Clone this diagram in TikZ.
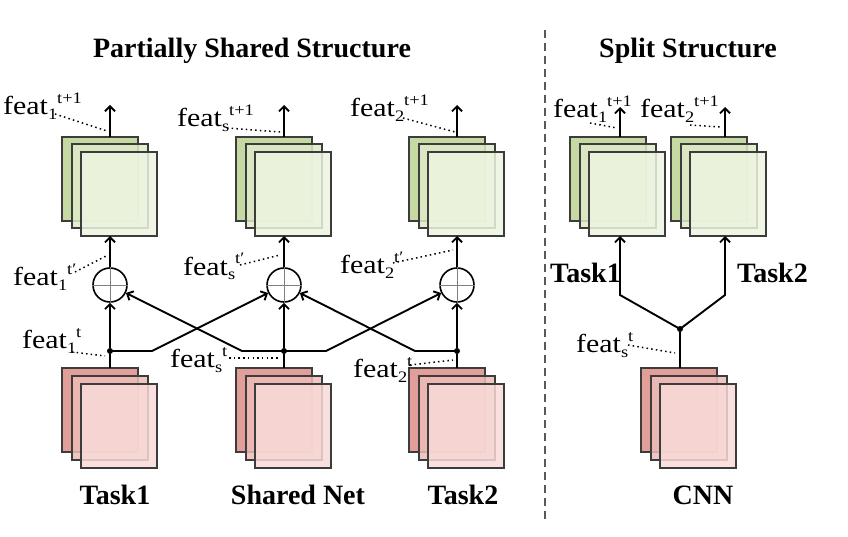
\documentclass[tikz,border=0pt]{standalone}
\usepackage{fontspec}
\setmainfont{Liberation Serif}
\usetikzlibrary{arrows.meta}
\definecolor{gA}{RGB}{198,217,162}
\definecolor{gB}{RGB}{222,234,200}
\definecolor{gC}{RGB}{237,244,224}
\definecolor{rA}{RGB}{226,158,152}
\definecolor{rB}{RGB}{237,188,184}
\definecolor{rC}{RGB}{248,218,216}
\definecolor{edgec}{RGB}{60,60,60}
\newcommand\ft[2]{\scalebox{1.15}[1]{feat\raisebox{-5pt}{\fontsize{16}{16}\selectfont #1}\raisebox{11pt}{\fontsize{16}{16}\selectfont #2}}}
\tikzset{
 sq/.style={draw=edgec, line width=1.4pt, minimum width=76pt, minimum height=84pt, anchor=north west, inner sep=0pt, outer sep=0pt},
 ga/.style={sq, fill=gA},
 gb/.style={sq, fill=gB, fill opacity=0.85},
 gc/.style={sq, fill=gC, fill opacity=0.85},
 ra/.style={sq, fill=rA},
 rb/.style={sq, fill=rB, fill opacity=0.85},
 rc/.style={sq, fill=rC, fill opacity=0.85},
 conn/.style={line width=1.9pt, black},
 arr/.style={conn, -{Straight Barb[length=5pt,width=10pt]}},
 lead/.style={line width=1.5pt, dash pattern=on 1.5pt off 3.2pt},
 sumnode/.style={circle, draw, line width=1.6pt, minimum size=34pt, inner sep=0pt, fill=white},
 dotnode/.style={circle, fill, inner sep=0pt, minimum size=6pt},
 lbl/.style={anchor=base west, inner sep=0pt, font=\fontsize{26}{26}\selectfont},
 boldlbl/.style={anchor=base, inner sep=0pt, font=\fontsize{28}{28}\selectfont\bfseries},
 sep/.style={draw=gray!70!black, line width=1.2pt, dash pattern=on 8pt off 5pt},
}
\newcommand\gstack[3]{%
 \node[ga] (#1a) at (#2,#3) {};
 \node[gb] (#1b) at ({#2+10},{#3+7}) {};
 \node[gc] (#1c) at ({#2+19},{#3+15}) {};
}
\newcommand\rstack[3]{%
 \node[ra] (#1a) at (#2,#3) {};
 \node[rb] (#1b) at ({#2+10},{#3+8}) {};
 \node[rc] (#1c) at ({#2+19},{#3+16}) {};
}
\newcommand\sumcross[1]{\draw[gray, line width=0.8pt] (#1.north)--(#1.south) (#1.west)--(#1.east);}
\begin{document}
\begin{tikzpicture}[x=1pt,y=-1pt]
\useasboundingbox (0,0) rectangle (848,537);
% titles
\node[boldlbl] (tp) at (252,58) {Partially Shared Structure};
\node[boldlbl] (tsp) at (688,58) {Split Structure};
\draw[sep] (545,30) -- (545,520);
% stacks partial
\gstack{g1}{62}{137}
\gstack{g2}{236}{137}
\gstack{g3}{409}{137}
\rstack{r1}{62}{368}
\rstack{r2}{236}{368}
\rstack{r3}{409}{368}
% sums
\node[sumnode] (s1) at (110,285) {};
\node[sumnode] (s2) at (284,285) {};
\node[sumnode] (s3) at (457,285) {};
\sumcross{s1}\sumcross{s2}\sumcross{s3}
% dots
\node[dotnode] (d1) at (110,351) {};
\node[dotnode] (d2) at (284,351) {};
\node[dotnode] (d3) at (457,351) {};
\coordinate (o1) at (110,105);
\coordinate (o2) at (284,105);
\coordinate (o3) at (457,105);
\foreach \i in {1,2,3}{
 \draw[arr] (g\i a.north -| d\i) -- (o\i);
 \draw[arr] (s\i) -- (g\i c.south -| s\i);
 \draw[arr] (d\i) -- (s\i);
 \draw[conn] (d\i) -- (r\i a.north -| d\i);
}
\coordinate (b12) at (152,351);
\coordinate (b21) at (242,351);
\coordinate (b23) at (326,351);
\coordinate (b32) at (415,351);
\draw[arr] (d1.center) -- (b12) -- (s2);
\draw[arr] (d2.center) -- (b21) -- (s1);
\draw[arr] (d2.center) -- (b23) -- (s3);
\draw[arr] (d3.center) -- (b32) -- (s2);
% labels partial
\node[lbl] (fa1) at (3,115) {\ft{1}{t+1}};
\node[lbl] (fas) at (177,127) {\ft{s}{t+1}};
\node[lbl] (fa2) at (350,117) {\ft{2}{t+1}};
\node[lbl] (fb1) at (13,285) {\ft{1}{t′}};
\node[lbl] (fbs) at (183,275) {\ft{s}{t′}};
\node[lbl] (fb2) at (340,273) {\ft{2}{t′}};
\node[lbl] (fc1) at (22,348) {\ft{1}{t}};
\node[lbl] (fcs) at (170,367) {\ft{s}{t}};
\node[lbl] (fc2) at (353,377) {\ft{2}{t}};
\draw[lead] (55,114) -- (107,131);
\draw[lead] (227,128) -- (280,132);
\draw[lead] (403,118) -- (455,132);
\draw[lead] (75,272) -- (108,255);
\draw[lead] (240,265) -- (280,255);
\draw[lead] (393,263) -- (453,250);
\draw[lead] (72,352) -- (105,356);
\draw[lead] (229,358) -- (280,358);
\draw[lead] (410,365) -- (453,360);
\node[boldlbl] (lt1) at (115,504) {Task1};
\node[boldlbl] (lsn) at (298,504) {Shared Net};
\node[boldlbl] (lt2) at (463,504) {Task2};
% split structure
\gstack{h1}{570}{137}
\gstack{h2}{671}{137}
\rstack{r4}{641}{368}
\node[dotnode] (d4) at (680,329) {};
\coordinate (k1) at (620,295);
\coordinate (k2) at (725,295);
\coordinate (o4) at (620,107);
\coordinate (o5) at (725,107);
\draw[arr] (d4.center) -- (k1) -- (h1c.south -| k1);
\draw[arr] (d4.center) -- (k2) -- (h2c.south -| k2);
\draw[conn] (d4) -- (r4a.north -| d4);
\draw[arr] (h1a.north -| k1) -- (o4);
\draw[arr] (h2a.north -| k2) -- (o5);
\node[lbl] (fh1) at (553,118) {\ft{1}{t+1}};
\node[lbl] (fh2) at (640,118) {\ft{2}{t+1}};
\node[lbl] (fhs) at (576,352) {\ft{s}{t}};
\draw[lead] (590,123) -- (617,128);
\draw[lead] (690,125) -- (720,127);
\draw[lead] (628,345) -- (675,353);
\node[boldlbl, anchor=base west] (st1) at (550,282) {Task1};
\node[boldlbl, anchor=base west] (st2) at (737,282) {Task2};
\node[boldlbl] (lcnn) at (703,504) {CNN};
\end{tikzpicture}
\end{document}
